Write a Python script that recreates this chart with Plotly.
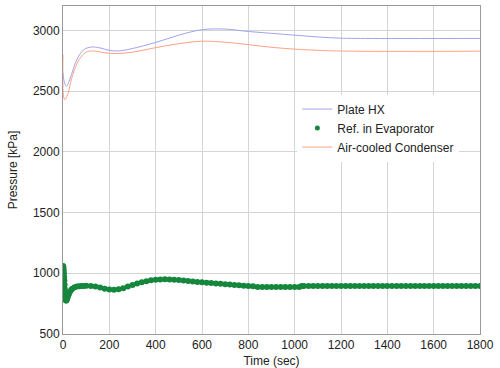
import plotly.graph_objects as go

# Plate HX (blue line)
plate_t = [0, 5, 15, 30, 60, 90, 120, 160, 200, 240, 300, 400, 500, 600, 700, 800, 900, 1000, 1100, 1200, 1300, 1800]
plate_p = [2650, 2580, 2540, 2600, 2760, 2840, 2862, 2855, 2835, 2830, 2850, 2900, 2960, 3005, 3010, 2990, 2975, 2960, 2945, 2935, 2933, 2933]

# Air-cooled condenser (red line)
cond_t = [0, 3, 8, 20, 40, 70, 100, 130, 180, 230, 300, 400, 500, 600, 700, 800, 900, 1000, 1100, 1250, 1800]
cond_p = [2800, 2450, 2430, 2470, 2620, 2760, 2820, 2830, 2815, 2808, 2820, 2857, 2890, 2910, 2902, 2882, 2860, 2845, 2835, 2828, 2828]

# Ref. in evaporator (green markers)
evap_t = [0, 1, 2, 3, 4, 5, 6, 7, 8, 9, 10, 11, 12, 13, 14, 16, 18, 20, 23, 26, 30, 35, 40, 50, 60, 70, 80, 90, 100, 120, 140,
          160, 180, 200, 220, 240, 260, 280, 300, 320, 340, 360, 380, 400, 420, 440, 460,
          480, 500, 520, 540, 560, 580, 600, 620, 640, 660, 680, 700, 720, 740, 760, 780,
          800, 820, 840, 860, 880, 900, 920, 940, 960, 980, 1000, 1020, 1030, 1040, 1060,
          1080, 1100, 1120, 1140, 1160, 1180, 1200, 1220, 1240, 1260, 1280, 1300, 1320,
          1340, 1360, 1380, 1400, 1420, 1440, 1460, 1480, 1500, 1520, 1540, 1560, 1580,
          1600, 1620, 1640, 1660, 1680, 1700, 1720, 1740, 1760, 1780, 1800]
evap_p = [1060, 1055, 1045, 1025, 1000, 970, 940, 905, 870, 840, 815, 795, 782, 776, 776, 782, 792, 805, 820, 833, 848, 862, 872, 884, 890, 893, 895, 896, 897, 895, 890,
          882, 873, 866, 864, 868, 877, 890, 903, 915, 926, 935, 942, 946, 949, 950, 949,
          947, 944, 940, 936, 932, 928, 925, 922, 919, 916, 913, 910, 907, 904, 901, 898,
          896, 893, 886, 886, 886, 886, 886, 886, 886, 886, 886, 886, 896, 896, 896,
          896, 896, 896, 896, 896, 896, 896, 896, 896, 896, 896, 896, 896,
          896, 896, 896, 896, 896, 896, 896, 896, 896, 896, 896, 896, 896,
          896, 896, 896, 896, 896, 896, 896, 896, 896, 896, 896]

x_ticks = [0, 200, 400, 600, 800, 1000, 1200, 1400, 1600, 1800]
y_ticks = [500, 1000, 1500, 2000, 2500, 3000]

green = "#15873d"
fig = go.Figure()
fig.add_trace(go.Scatter(x=plate_t, y=plate_p, mode="lines", name="Plate HX",
                         line=dict(color="#a3a3ee", width=1, shape="spline")))
fig.add_trace(go.Scatter(x=evap_t, y=evap_p, mode="markers", name="Ref. in Evaporator",
                         legendgroup="evap", showlegend=False,
                         marker=dict(color=green, size=6, line=dict(width=0))))
fig.add_trace(go.Scatter(x=[None], y=[None], mode="markers", name="Ref. in Evaporator",
                         legendgroup="evap", showlegend=True,
                         marker=dict(color=green, size=5, line=dict(width=0))))
fig.add_trace(go.Scatter(x=cond_t, y=cond_p, mode="lines", name="Air-cooled Condenser",
                         line=dict(color="#ffa285", width=1, shape="spline")))

font_family = "Liberation Sans, Arial, sans-serif"
fig.update_layout(
    width=500, height=368,
    margin=dict(l=63, r=20, t=6, b=34),
    paper_bgcolor="white", plot_bgcolor="white",
    font=dict(family=font_family, size=12, color="#222"),
    showlegend=True,
    legend=dict(x=0.562, y=0.73, xanchor="left", yanchor="top",
                bgcolor="white", borderwidth=0, font=dict(size=12, color="#222"),
                tracegroupgap=0, itemwidth=30),
    xaxis=dict(range=[0, 1800], tickvals=x_ticks, showgrid=True, gridcolor="#d4d4d4", gridwidth=1,
               zeroline=False, showline=True, linecolor="#9a9a9a", linewidth=1, mirror=True,
               ticks="", ticklabelstandoff=0, automargin=False,
               title=dict(text="Time (sec)", standoff=9, font=dict(size=12)),
               tickfont=dict(size=12, color="#222")),
    yaxis=dict(range=[500, 3200], tickvals=y_ticks, showgrid=True, gridcolor="#d4d4d4", gridwidth=1,
               zeroline=False, showline=True, linecolor="#9a9a9a", linewidth=1, mirror=True,
               ticks="", automargin=False,
               title=dict(text="Pressure [kPa]", standoff=12, font=dict(size=12)),
               tickfont=dict(size=12, color="#222")),
)

fig.write_html("out.html")
